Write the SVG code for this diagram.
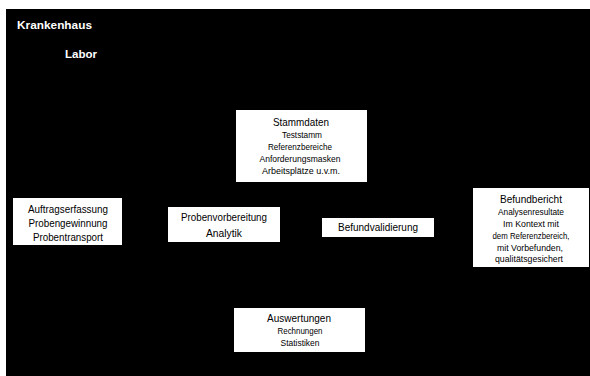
<svg xmlns="http://www.w3.org/2000/svg" width="590" height="376" viewBox="0 0 590 376">
<style>
.bg{fill:#000}
.box{fill:#fff}
text{font-family:"Liberation Sans",Arial,sans-serif;fill:#000;text-anchor:middle}
.h{font-size:11.5px}
.s{font-size:9.5px}
.m{font-size:10.5px}
.w{fill:#fff;font-weight:bold;font-size:11.5px;text-anchor:start}
</style>
<rect x="0" y="0" width="590" height="376" fill="#fff"/>
<rect class="bg" x="6" y="9" width="584" height="367"/>
<g id="krankenhaus"><text class="w" x="17" y="29" textLength="75" lengthAdjust="spacingAndGlyphs">Krankenhaus</text></g>
<g id="labor"><text class="w" x="65" y="58" textLength="32" lengthAdjust="spacingAndGlyphs">Labor</text></g>
<g id="connectors"></g>
<g id="stammdaten">
<rect class="box" x="236" y="110" width="131" height="72"/>
<text class="h" x="301" y="126" textLength="56" lengthAdjust="spacingAndGlyphs">Stammdaten</text>
<text class="s" x="302" y="138" textLength="40" lengthAdjust="spacingAndGlyphs">Teststamm</text>
<text class="s" x="300" y="150" textLength="64" lengthAdjust="spacingAndGlyphs">Referenzbereiche</text>
<text class="s" x="300" y="162" textLength="81" lengthAdjust="spacingAndGlyphs">Anforderungsmasken</text>
<text class="s" x="301" y="174" textLength="78" lengthAdjust="spacingAndGlyphs">Arbeitsplätze u.v.m.</text>
</g>
<g id="auftrag">
<rect class="box" x="13" y="198" width="109" height="47"/>
<text class="m" x="68" y="213" textLength="80" lengthAdjust="spacingAndGlyphs">Auftragserfassung</text>
<text class="m" x="68" y="227" textLength="79" lengthAdjust="spacingAndGlyphs">Probengewinnung</text>
<text class="m" x="68" y="241" textLength="70" lengthAdjust="spacingAndGlyphs">Probentransport</text>
</g>
<g id="probenvorbereitung">
<rect class="box" x="168" y="207" width="112" height="35"/>
<text class="m" x="224" y="221" textLength="86" lengthAdjust="spacingAndGlyphs">Probenvorbereitung</text>
<text class="m" x="224" y="237" textLength="36" lengthAdjust="spacingAndGlyphs">Analytik</text>
</g>
<g id="befundvalidierung">
<rect class="box" x="322" y="218" width="112" height="19"/>
<text class="m" x="378" y="231" textLength="80" lengthAdjust="spacingAndGlyphs">Befundvalidierung</text>
</g>
<g id="befundbericht">
<rect class="box" x="473" y="188" width="116" height="79"/>
<text class="h" x="531" y="203" textLength="62" lengthAdjust="spacingAndGlyphs">Befundbericht</text>
<text class="s" x="531" y="215" textLength="66" lengthAdjust="spacingAndGlyphs">Analysenresultate</text>
<text class="s" x="531" y="227" textLength="56" lengthAdjust="spacingAndGlyphs">Im Kontext mit</text>
<text class="s" x="531" y="239" textLength="77" lengthAdjust="spacingAndGlyphs">dem Referenzbereich,</text>
<text class="s" x="530" y="251" textLength="66" lengthAdjust="spacingAndGlyphs">mit Vorbefunden,</text>
<text class="s" x="529" y="262" textLength="68" lengthAdjust="spacingAndGlyphs">qualitätsgesichert</text>
</g>
<g id="auswertungen">
<rect class="box" x="234" y="308" width="131" height="44"/>
<text class="h" x="299" y="322" textLength="64" lengthAdjust="spacingAndGlyphs">Auswertungen</text>
<text class="s" x="300" y="334" textLength="45" lengthAdjust="spacingAndGlyphs">Rechnungen</text>
<text class="s" x="300" y="346" textLength="39" lengthAdjust="spacingAndGlyphs">Statistiken</text>
</g>
</svg>
